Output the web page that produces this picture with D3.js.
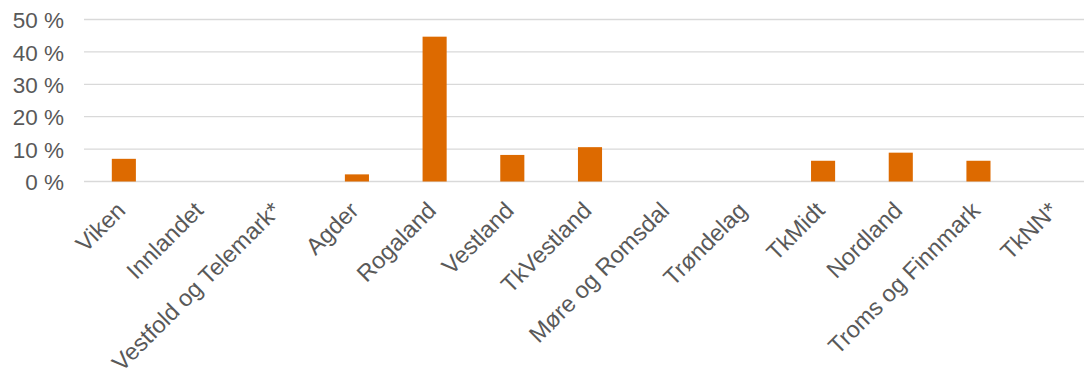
<!DOCTYPE html>
<html>
<head>
<meta charset="utf-8">
<script src="https://cdn.jsdelivr.net/npm/d3@7"></script>
<style>
  html, body { margin: 0; padding: 0; background: #fff; }
  svg { display: block; }
</style>
</head>
<body>
<svg id="chart" width="1084" height="375"></svg>
<script>
const categories = ["Viken", "Innlandet", "Vestfold og Telemark*", "Agder", "Rogaland", "Vestland", "TkVestland", "Møre og Romsdal", "Trøndelag", "TkMidt", "Nordland", "Troms og Finnmark", "TkNN*"];
const values = [7.0, 0, 0, 2.2, 44.7, 8.2, 10.6, 0, 0, 6.4, 8.9, 6.4, 0];
const yTicks = [0, 10, 20, 30, 40, 50];

const svg = d3.select("#chart");
const font = "'Liberation Sans', Arial, sans-serif";

const x = d3.scaleBand().domain(categories).range([85, 1095]).paddingInner(0.69).paddingOuter(0.345);
const y = d3.scaleLinear().domain([0, 50]).range([181.5, 19.5]);

// gridlines
svg.append("g").selectAll("line").data(yTicks).join("line")
  .attr("x1", 84).attr("x2", 1084)
  .attr("y1", d => y(d)).attr("y2", d => y(d))
  .attr("stroke", "#d9d9d9").attr("stroke-width", 1.3);

// y axis labels
const yAxis = d3.axisLeft(y).tickValues(yTicks).tickFormat(d => d + " %").tickSize(0).tickPadding(0);
const ya = svg.append("g").attr("transform", "translate(64,0)").call(yAxis);
ya.select(".domain").remove();
ya.selectAll("text").attr("font-family", font).attr("font-size", 22.5).attr("fill", "#595959").attr("dy", "0.36em");

// bars
svg.append("g").selectAll("rect").data(values).join("rect")
  .attr("x", (d, i) => x(categories[i]))
  .attr("width", x.bandwidth())
  .attr("y", d => y(d))
  .attr("height", d => y(0) - y(d))
  .attr("fill", "#dd6a00");

// x labels
svg.append("g").selectAll("text").data(categories).join("text")
  .attr("transform", d => `translate(${x(d) + x.bandwidth() / 2 + 3},${212}) rotate(-45)`)
  .attr("text-anchor", "end")
  .attr("font-family", font).attr("font-size", 23.5).attr("fill", "#595959")
  .text(d => d);
</script>
</body>
</html>
